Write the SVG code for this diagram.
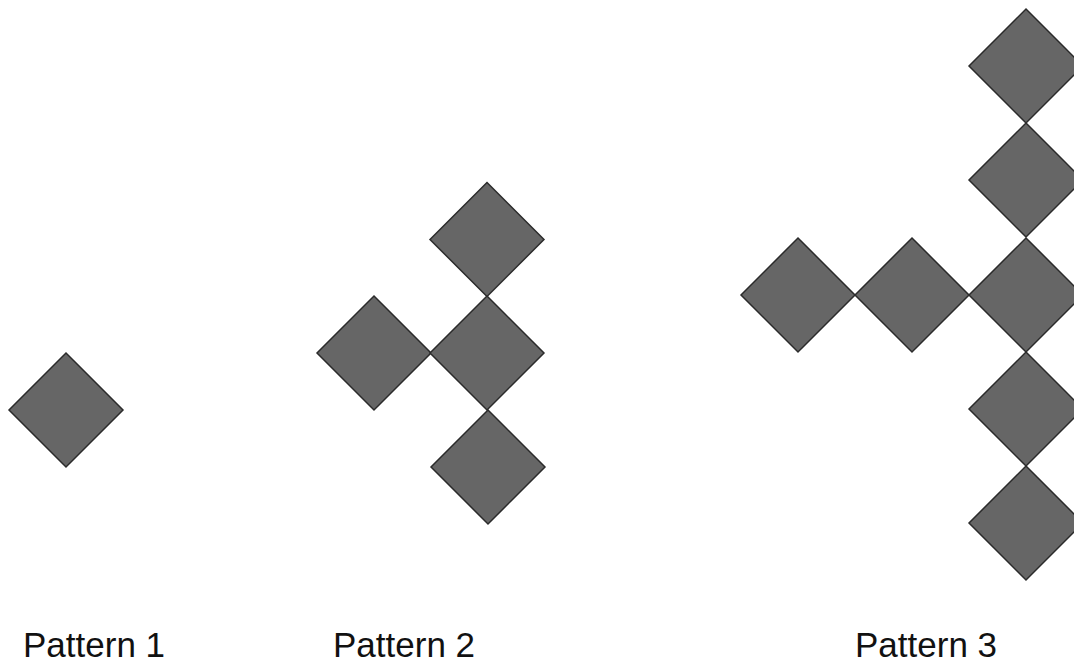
<svg xmlns="http://www.w3.org/2000/svg" width="1074" height="661" viewBox="0 0 1074 661">
<style>
.d{fill:#666666;stroke:#2b2b2b;stroke-width:1.5;stroke-linejoin:miter}
.t{font-family:"Liberation Sans",Arial,sans-serif;font-size:35px;fill:#111}
</style>
<defs><path id="dm" d="M0,-57 L57,0 L0,57 L-57,0 Z"/></defs>
<rect width="1074" height="661" fill="#fff"/>
<g id="pattern1">
<use href="#dm" class="d" x="66" y="410"/>
</g>
<g id="pattern2">
<use href="#dm" class="d" x="487" y="239.5"/>
<use href="#dm" class="d" x="374" y="353"/>
<use href="#dm" class="d" x="487" y="353"/>
<use href="#dm" class="d" x="488" y="467"/>
</g>
<g id="pattern3">
<use href="#dm" class="d" x="1026" y="66"/>
<use href="#dm" class="d" x="1026" y="180"/>
<use href="#dm" class="d" x="798" y="295"/>
<use href="#dm" class="d" x="912" y="295"/>
<use href="#dm" class="d" x="1026" y="295"/>
<use href="#dm" class="d" x="1026" y="409"/>
<use href="#dm" class="d" x="1026" y="523"/>
</g>
<g id="labels">
<text class="t" x="23" y="657">Pattern 1</text>
<text class="t" x="333" y="657">Pattern 2</text>
<text class="t" x="855" y="657">Pattern 3</text>
</g>
</svg>
